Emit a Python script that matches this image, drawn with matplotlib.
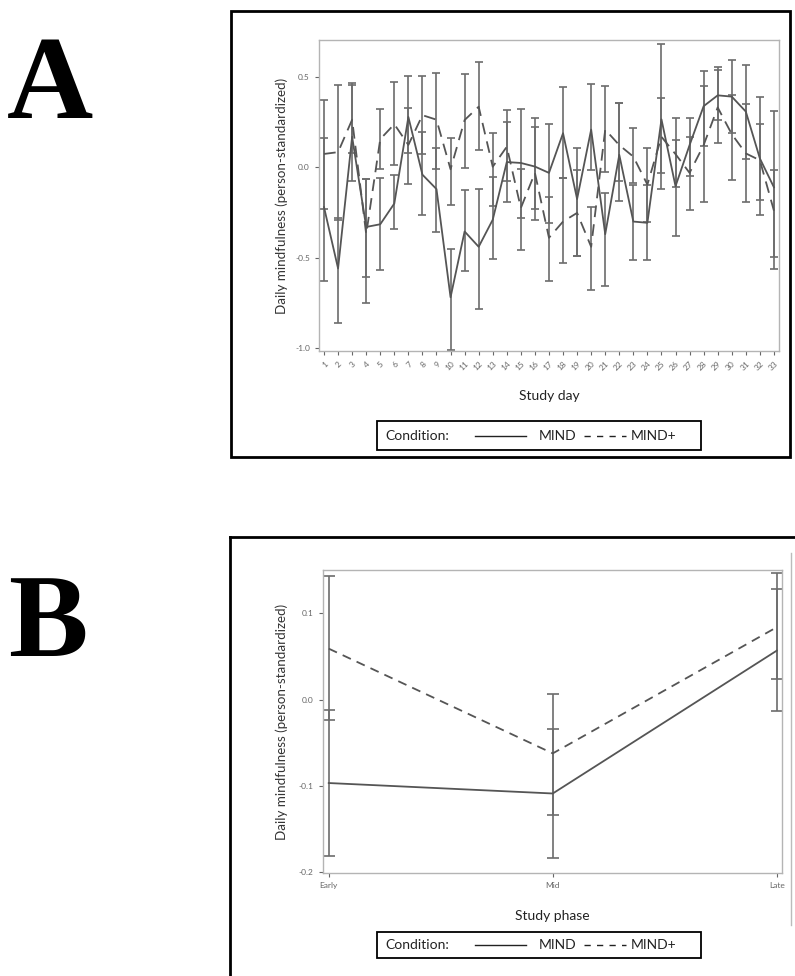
import matplotlib
matplotlib.use("Agg")
import matplotlib.pyplot as plt
from matplotlib.patches import Rectangle
from matplotlib.lines import Line2D
import numpy as np

# panel A: daily means with 95% CI, by condition
days = list(range(1, 34))
mind_mean = [-0.22, -0.56, 0.17, -0.33, -0.315, -0.20, 0.28, -0.04, -0.12, -0.72,
             -0.355, -0.44, -0.29, 0.03, 0.025, 0.005, -0.03, 0.19, -0.175, 0.21,
             -0.37, 0.07, -0.30, -0.307, 0.267, -0.104, 0.124, 0.34, 0.40, 0.393,
             0.31, 0.05, -0.11]
mind_lo = [-0.63, -0.86, -0.076, -0.61, -0.57, -0.34, 0.078, -0.265, -0.357, -1.01,
           -0.576, -0.783, -0.509, -0.194, -0.28, -0.228, -0.307, -0.056, -0.493, -0.015,
           -0.66, -0.185, -0.515, -0.511, -0.122, -0.38, -0.048, 0.119, 0.263, 0.19,
           0.046, -0.261, -0.561]
mind_hi = [0.165, -0.28, 0.46, -0.065, -0.057, -0.043, 0.507, 0.194, 0.106, -0.455,
           -0.126, -0.117, -0.052, 0.25, 0.326, 0.272, 0.239, 0.444, 0.106, 0.463,
           -0.139, 0.356, -0.098, -0.10, 0.685, 0.152, 0.272, 0.537, 0.559, 0.596,
           0.569, 0.393, 0.313]
plus_mean = [0.075, 0.085, 0.265, -0.37, 0.157, 0.24, 0.125, 0.29, 0.265, -0.01,
             0.263, 0.337, 0.004, 0.115, -0.225, -0.03, -0.39, -0.30, -0.252, -0.44,
             0.21, 0.124, 0.06, -0.095, 0.17, 0.074, -0.03, 0.124, 0.333, 0.185,
             0.078, 0.04, -0.24]
plus_lo = [-0.228, -0.29, 0.078, -0.75, -0.011, 0.013, -0.089, 0.072, -0.011, -0.21,
           -0.002, 0.096, -0.213, -0.076, -0.456, -0.293, -0.631, -0.528, -0.493, -0.678,
           -0.024, -0.074, -0.085, -0.30, -0.03, -0.107, -0.237, -0.194, 0.137, -0.07,
           -0.194, -0.181, -0.496]
plus_hi = [0.374, 0.46, 0.467, -0.065, 0.324, 0.472, 0.33, 0.51, 0.526, 0.161,
           0.517, 0.587, 0.193, 0.318, -0.011, 0.226, -0.163, -0.056, -0.015, -0.222,
           0.454, 0.356, 0.22, 0.106, 0.383, 0.272, 0.167, 0.452, 0.54, 0.40,
           0.35, 0.239, -0.015]

# panel B: phase means with 95% CI
phases = ["Early", "Mid", "Late"]
mindB_mean = [-0.0965, -0.1086, 0.0567]
mindB_lo = [-0.181, -0.1827, -0.0129]
mindB_hi = [-0.012, -0.0344, 0.1278]
plusB_mean = [0.059, -0.0622, 0.0838]
plusB_lo = [-0.0236, -0.1337, 0.0235]
plusB_hi = [0.1436, 0.0065, 0.1464]

W, H = 795, 976
fig = plt.figure(figsize=(W / 100, H / 100), dpi=100)
plt.rcParams['font.family'] = ['Lato', 'DejaVu Sans']

line_c = '#555555'
bar_c = '#6c6c6c'
spine_c = '#b4b4b4'
tick_c = '#666666'


def fbox(x0, y0, x1, y1):
    # pixel box -> figure fraction [left, bottom, width, height]
    return [x0 / W, 1 - y1 / H, (x1 - x0) / W, (y1 - y0) / H]


def style_axes(ax):
    for s in ax.spines.values():
        s.set_color(spine_c)
        s.set_linewidth(1.0)
    ax.tick_params(colors=tick_c, labelcolor=tick_c, length=3, width=0.8, labelsize=6)


def draw_legend(y0, y1):
    x0, x1 = 377, 701
    fig.patches.append(Rectangle((x0 / W, 1 - y1 / H), (x1 - x0) / W, (y1 - y0) / H,
                                 transform=fig.transFigure, fill=False, ec='black', lw=1.3))
    yc = 1 - (y0 + y1) / 2 / H
    fig.text(385 / W, yc, "Condition:", fontsize=10, va='center', ha='left', color='#222222')
    fig.lines.append(Line2D([475 / W, 526 / W], [yc, yc], transform=fig.transFigure,
                            color='#222222', lw=1.0))
    fig.text(539 / W, yc, "MIND", fontsize=10, va='center', ha='left', color='#222222')
    fig.lines.append(Line2D([584 / W, 626 / W], [yc, yc], transform=fig.transFigure,
                            color='#222222', lw=1.0, dashes=(4.5, 4.5)))
    fig.text(631 / W, yc, "MIND+", fontsize=10, va='center', ha='left', color='#222222')


# outer frames
fig.patches.append(Rectangle((231 / W, 1 - 457 / H), (790 - 231) / W, (457 - 11) / H,
                             transform=fig.transFigure, fill=False, ec='black', lw=2))
fig.lines.append(Line2D([230 / W, 230 / W], [0, 1 - 537 / H], transform=fig.transFigure,
                        color='black', lw=2))
fig.lines.append(Line2D([230 / W, 1.0], [1 - 537 / H, 1 - 537 / H], transform=fig.transFigure,
                        color='black', lw=2))
fig.lines.append(Line2D([791 / W, 791 / W], [1 - 925 / H, 1 - 553 / H], transform=fig.transFigure,
                        color='#bbbbbb', lw=1))

# panel letters
fig.text(50 / W, 1 - 90 / H, "A", fontsize=86, fontweight='bold', family='Liberation Serif',
         ha='center', va='center')
fig.text(48 / W, 1 - 628 / H, "B", fontsize=86, fontweight='bold', family='Liberation Serif',
         ha='center', va='center')

# ---- panel A ----
axA = fig.add_axes(fbox(319, 40, 779, 351))
d = np.array(days)
for m, lo, hi in [(mind_mean, mind_lo, mind_hi), (plus_mean, plus_lo, plus_hi)]:
    m = np.array(m)
    axA.errorbar(d, m, yerr=[m - np.array(lo), np.array(hi) - m], fmt='none',
                 ecolor=bar_c, elinewidth=1.2, capsize=3.2, capthick=1.2)
axA.plot(d, mind_mean, color=line_c, lw=1.3)
axA.plot(d, plus_mean, color=line_c, lw=1.3, dashes=(6.5, 4))
axA.set_xlim(0.644, 33.36)
axA.set_ylim(-1.018, 0.707)
axA.set_yticks([-1.0, -0.5, 0.0, 0.5])
axA.set_yticklabels(["-1.0", "-0.5", "0.0", "0.5"])
axA.set_xticks(days)
axA.set_xticklabels([str(v) for v in days], rotation=45, ha='right', rotation_mode='anchor')
style_axes(axA)
axA.set_ylabel("Daily mindfulness (person-standardized)", fontsize=9.6, color='#333333', labelpad=5)
axA.set_xlabel("Study day", fontsize=10, color='#222222', labelpad=13)
draw_legend(421, 450)

# ---- panel B ----
axB = fig.add_axes(fbox(322.7, 570, 781.7, 873))
xb = np.arange(len(phases))
for m, lo, hi in [(mindB_mean, mindB_lo, mindB_hi), (plusB_mean, plusB_lo, plusB_hi)]:
    m = np.array(m)
    axB.errorbar(xb, m, yerr=[m - np.array(lo), np.array(hi) - m], fmt='none',
                 ecolor=bar_c, elinewidth=1.2, capsize=4.5, capthick=1.2)
axB.plot(xb, mindB_mean, color=line_c, lw=1.3)
axB.plot(xb, plusB_mean, color=line_c, lw=1.3, dashes=(5, 3.5))
axB.set_xlim(-0.027, 2.022)
axB.set_ylim(-0.2006, 0.150)
axB.set_yticks([-0.2, -0.1, 0.0, 0.1])
axB.set_yticklabels(["-0.2", "-0.1", "0.0", "0.1"])
axB.set_xticks(xb)
axB.set_xticklabels(phases)
style_axes(axB)
axB.set_ylabel("Daily mindfulness (person-standardized)", fontsize=9.6, color='#333333', labelpad=8)
axB.set_xlabel("Study phase", fontsize=10, color='#222222', labelpad=15)
draw_legend(932, 958)

fig.savefig("out.png", dpi=100)
